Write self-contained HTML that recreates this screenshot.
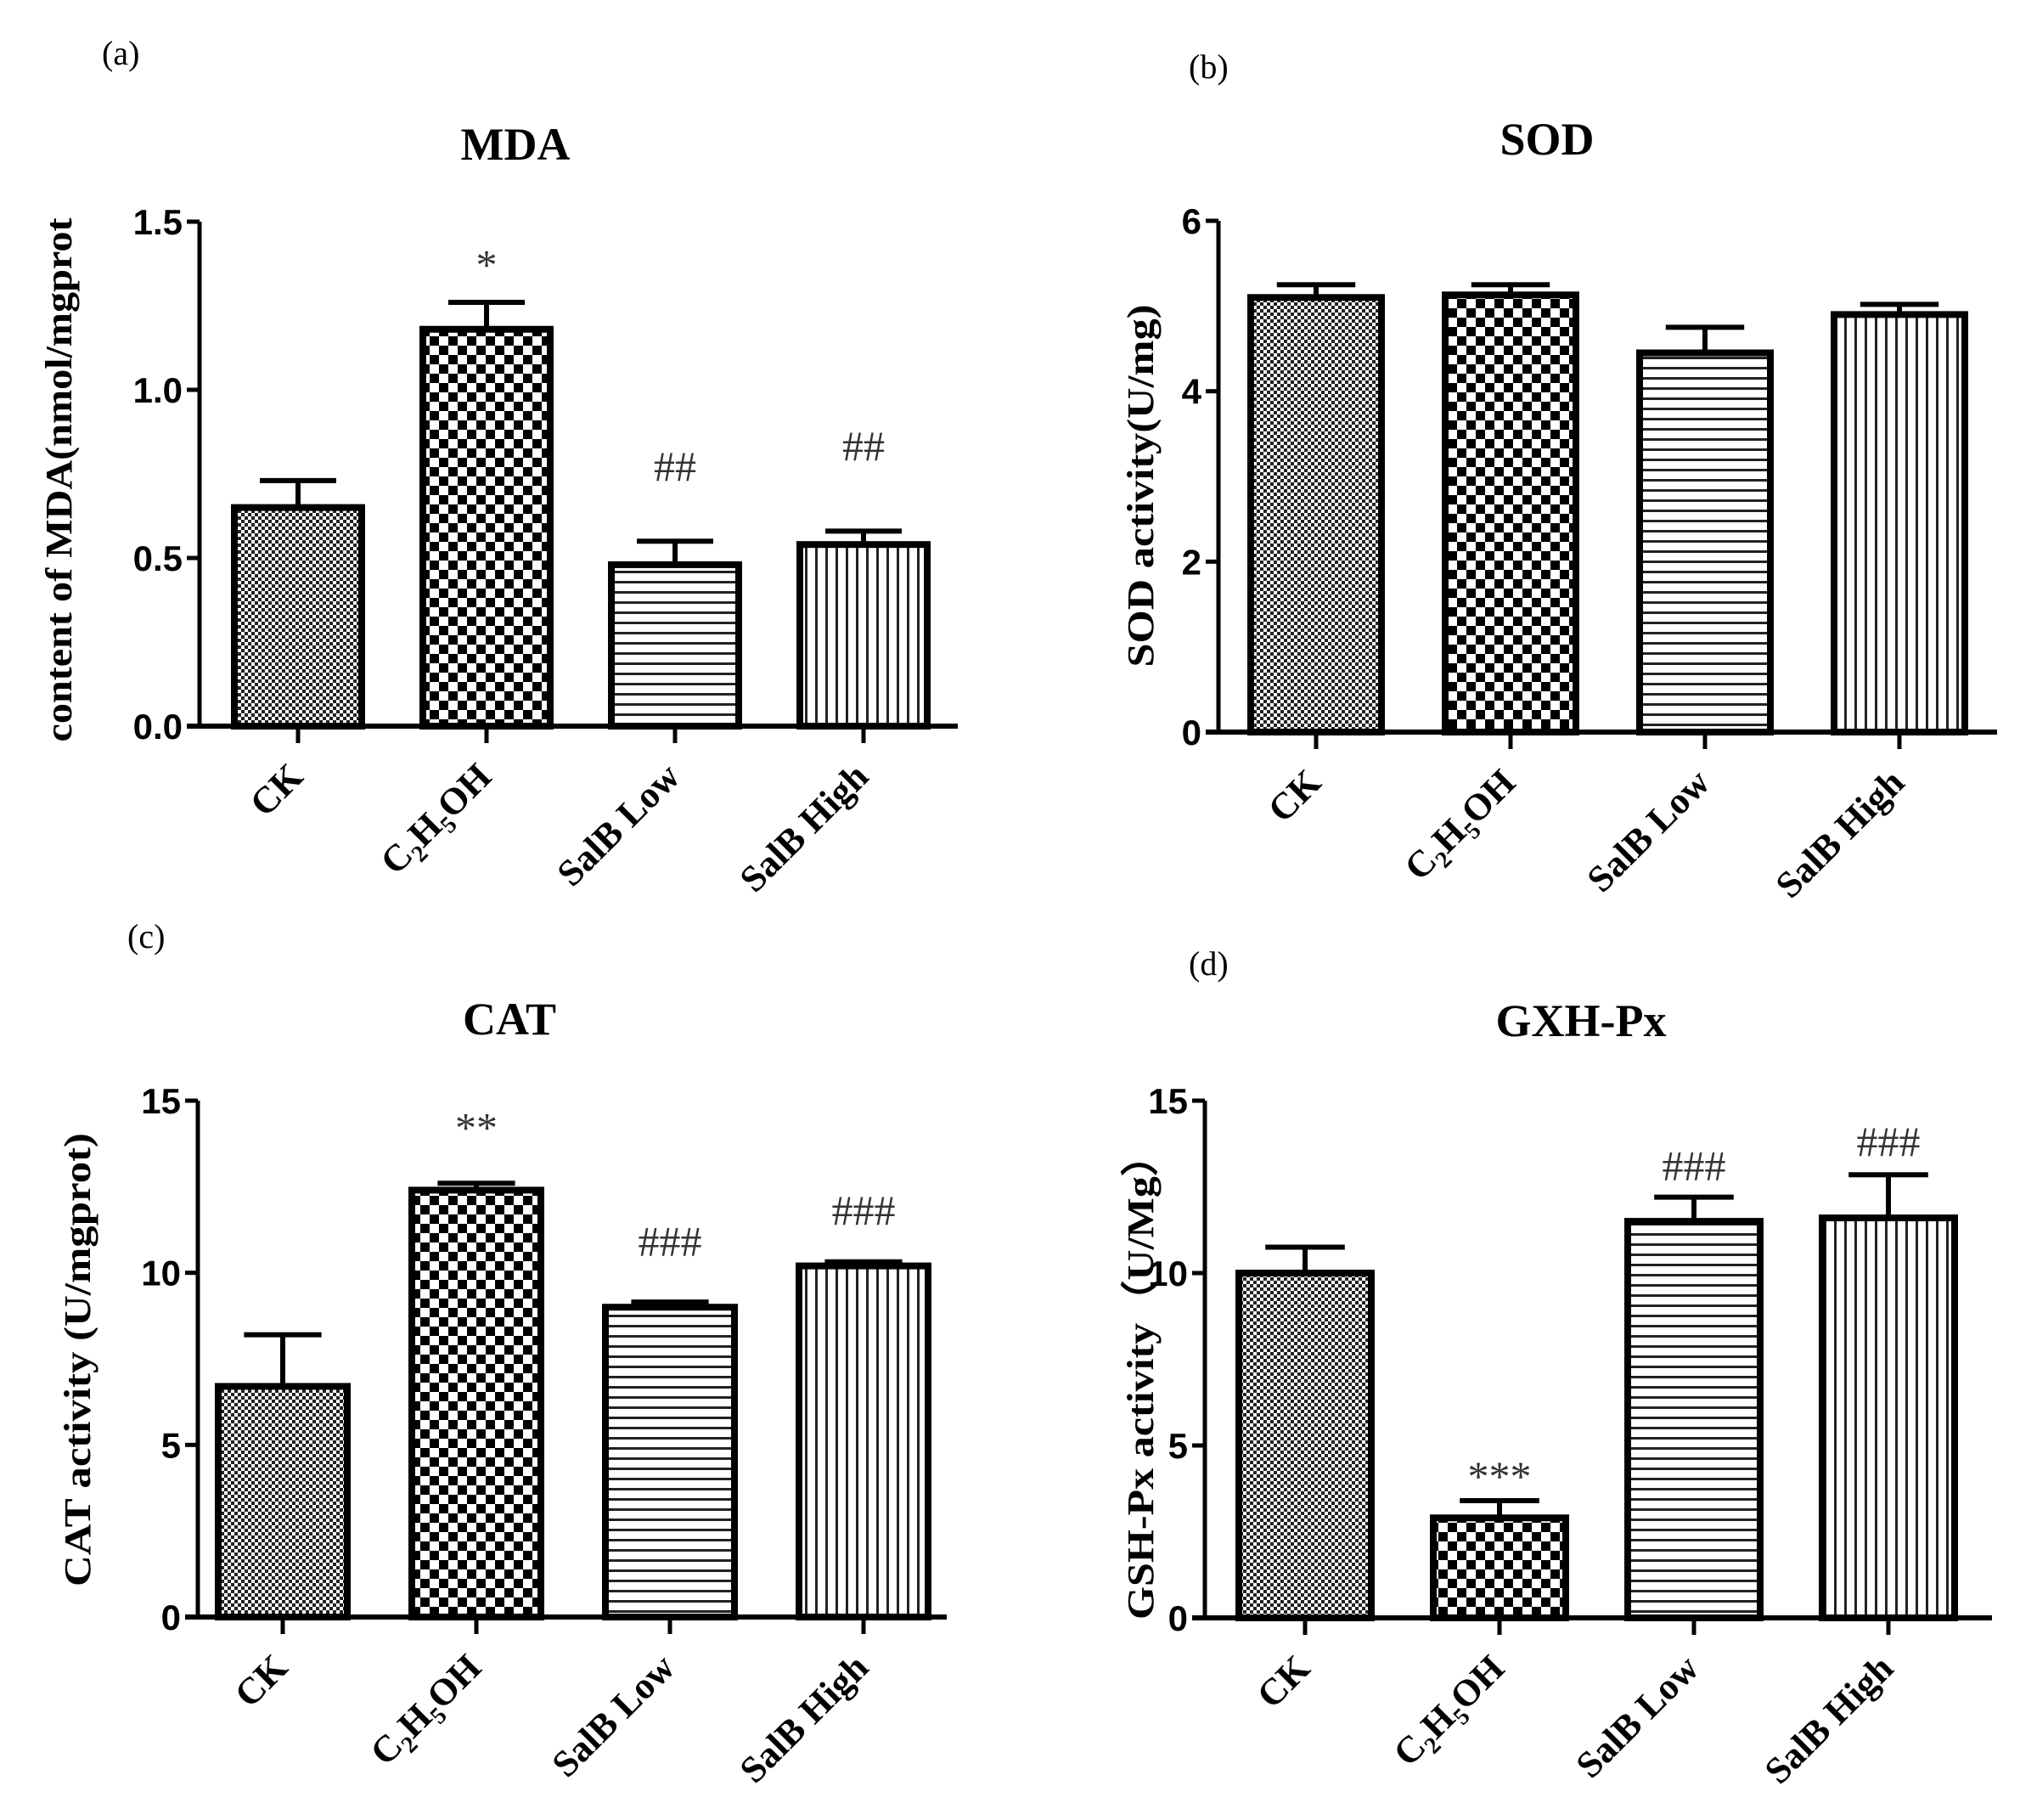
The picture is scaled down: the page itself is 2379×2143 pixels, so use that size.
<!DOCTYPE html>
<html><head><meta charset="utf-8">
<style>
html,body{margin:0;padding:0;background:#fff;}
svg{display:block;}
.tick{font-family:"Liberation Sans",Arial,sans-serif;font-weight:bold;font-size:42px;fill:#000;}
.serif{font-family:"Liberation Serif","Times New Roman",serif;}
</style></head>
<body>
<svg id="fig" width="2379" height="2143" viewBox="0 0 2379 2143" xmlns="http://www.w3.org/2000/svg">
<defs>
<pattern id="pFine" width="8" height="8" patternUnits="userSpaceOnUse">
<rect width="8" height="8" fill="#fff"/><rect width="4" height="4" fill="#222"/><rect x="4" y="4" width="4" height="4" fill="#222"/>
</pattern>
<pattern id="pCoarse" width="22" height="22" patternUnits="userSpaceOnUse">
<rect width="22" height="22" fill="#fff"/><rect width="11" height="11" fill="#000"/><rect x="11" y="11" width="11" height="11" fill="#000"/>
</pattern>
<pattern id="pHoriz" width="12" height="12" patternUnits="userSpaceOnUse">
<rect width="12" height="12" fill="#fff"/><rect y="0" width="12" height="3" fill="#222"/>
</pattern>
<pattern id="pVert" width="12" height="12" patternUnits="userSpaceOnUse">
<rect width="12" height="12" fill="#fff"/><rect x="0" width="3" height="12" fill="#222"/>
</pattern>
</defs>
</svg>
<script>
const categories = ["CK","C2H5OH","SalB Low","SalB High"];
const mdaValues = [0.65, 1.18, 0.48, 0.54];
const mdaErrors = [0.08, 0.08, 0.07, 0.04];
const mdaMarks = ["", "*", "##", "##"];
const mdaMarkY = [0, 1.33, 0.73, 0.79];
const mdaTicks = ["0.0","0.5","1.0","1.5"];
const sodValues = [5.10, 5.13, 4.45, 4.90];
const sodErrors = [0.15, 0.12, 0.30, 0.12];
const sodMarks = ["", "", "", ""];
const sodMarkY = [0, 0, 0, 0];
const sodTicks = ["0","2","4","6"];
const catValues = [6.7, 12.4, 9.0, 10.2];
const catErrors = [1.5, 0.2, 0.15, 0.12];
const catMarks = ["", "**", "###", "###"];
const catMarkY = [0, 13.8, 10.5, 11.4];
const catTicks = ["0","5","10","15"];
const gshValues = [10.0, 2.9, 11.5, 11.6];
const gshErrors = [0.75, 0.5, 0.7, 1.25];
const gshMarks = ["", "***", "###", "###"];
const gshMarkY = [0, 3.7, 12.7, 13.4];
const gshTicks = ["0","5","10","15"];

const NS = "http://www.w3.org/2000/svg";
const svg = document.getElementById('fig');
const fills = ["url(#pFine)","url(#pCoarse)","url(#pHoriz)","url(#pVert)"];
function mk(tag, attrs, parent){
  const e = document.createElementNS(NS, tag);
  for (const k in attrs) e.setAttribute(k, attrs[k]);
  (parent||svg).appendChild(e);
  return e;
}
function panel(p){
  const g = mk('g', {});
  
  
  const y = v => p.y0 - (v - 0) / p.max * (p.y0 - p.yTop);
  const x = i => p.c0 + i * p.step;
  const lt = mk('text', {x:p.letter[0], y:p.letter[1], 'font-size':40, class:'serif'}, g);
  lt.textContent = p.letterText;
  
  
  const tt = mk('text', {x:p.title[0], y:p.title[1], 'font-size':54, 'font-weight':'bold', 'text-anchor':'middle', class:'serif'}, g);
  tt.textContent = p.titleText;
  
  
  const yt = mk('text', {x:0, y:0, 'font-size':44, 'font-weight':'bold', 'text-anchor':'middle', textLength:p.ytLen, lengthAdjust:'spacingAndGlyphs', class:'serif', transform:`translate(${p.ytPos[0]},${p.ytPos[1]}) rotate(-90)`}, g);
  yt.textContent = p.ytText;
  
  
  p.values.forEach((v,i)=>{
    const cx = x(i), w = p.bw;
    const top = y(v + p.errors[i]);
    const el = mk('line', {x1:cx, x2:cx, y1:y(v), y2:top, stroke:'#000','stroke-width':6}, g);
    
    
    const cap = mk('line', {x1:cx-w*0.3, x2:cx+w*0.3, y1:top, y2:top, stroke:'#000','stroke-width':6}, g);
    
    
    const r = mk('rect', {x:cx-w/2, y:y(v), width:w, height:p.y0-y(v), fill:fills[i], stroke:'#000','stroke-width':8}, g);
    
    
    if (p.marks[i]) {
      const m = mk('text', {x:cx, y:y(p.markY[i]), 'font-size':50, 'text-anchor':'middle', class:'serif', fill:'#333'}, g);
      m.textContent = p.marks[i];
      
      
    }
    const xt = mk('line', {x1:cx, x2:cx, y1:p.y0, y2:p.y0+20, stroke:'#000','stroke-width':5}, g);
    
    
    const lx = cx + 8, ly = p.y0 + 62;
    const lab = mk('text', {x:0, y:0, 'font-size':44, 'font-weight':'bold', 'text-anchor':'end', class:'serif', transform:`translate(${lx},${ly}) rotate(-45)`}, g);
    if (categories[i] === "C2H5OH") {
      lab.innerHTML = 'C<tspan font-size="28" dy="10">2</tspan><tspan dy="-10">H</tspan><tspan font-size="28" dy="10">5</tspan><tspan dy="-10">OH</tspan>';
    } else {
      lab.textContent = categories[i];
    }
    
    
  });
  const ya = mk('line', {x1:p.ax, x2:p.ax, y1:p.yTop, y2:p.y0+2, stroke:'#000','stroke-width':5}, g);
  
  
  const xa = mk('line', {x1:p.ax-15, x2:p.xEnd, y1:p.y0, y2:p.y0, stroke:'#000','stroke-width':6}, g);
  
  
  p.ticks.forEach((t,k)=>{
    const v = parseFloat(t);
    const tk = mk('line', {x1:p.ax-15, x2:p.ax, y1:y(v), y2:y(v), stroke:'#000','stroke-width':5}, g);
    
    
    const tl = mk('text', {x:p.ax-20, y:y(v)+15, 'text-anchor':'end', class:'tick'}, g);
    tl.textContent = t;
    
    
  });
}
panel({name:'mda-chart', letterText:'(a)', letter:[120,76], titleText:'MDA', title:[607,188],
  ytText:'content of MDA(nmol/mgprot', ytPos:[84,565], ytLen:617,
  values:mdaValues, errors:mdaErrors, marks:mdaMarks, markY:mdaMarkY, ticks:mdaTicks, max:1.5,
  ax:235, yTop:261, y0:855, xEnd:1128, c0:351, step:222, bw:150});
panel({name:'sod-chart', letterText:'(b)', letter:[1400,92], titleText:'SOD', title:[1822,182],
  ytText:'SOD activity(U/mg)', ytPos:[1358,572], ytLen:427,
  values:sodValues, errors:sodErrors, marks:sodMarks, markY:sodMarkY, ticks:sodTicks, max:6,
  ax:1435, yTop:260, y0:862, xEnd:2352, c0:1550, step:229, bw:154});
panel({name:'cat-chart', letterText:'(c)', letter:[150,1116], titleText:'CAT', title:[600,1218],
  ytText:'CAT activity (U/mgprot)', ytPos:[106,1601], ytLen:534,
  values:catValues, errors:catErrors, marks:catMarks, markY:catMarkY, ticks:catTicks, max:15,
  ax:233, yTop:1296, y0:1904, xEnd:1115, c0:333, step:228, bw:152});
panel({name:'gsh-px-chart', letterText:'(d)', letter:[1400,1148], titleText:'GXH-Px', title:[1862,1220],
  ytText:'GSH-Px activity（U/Mg）', ytPos:[1358,1621], ytLen:572,
  values:gshValues, errors:gshErrors, marks:gshMarks, markY:gshMarkY, ticks:gshTicks, max:15,
  ax:1419, yTop:1296, y0:1905, xEnd:2346, c0:1537, step:229, bw:156});
</script>
</body></html>
